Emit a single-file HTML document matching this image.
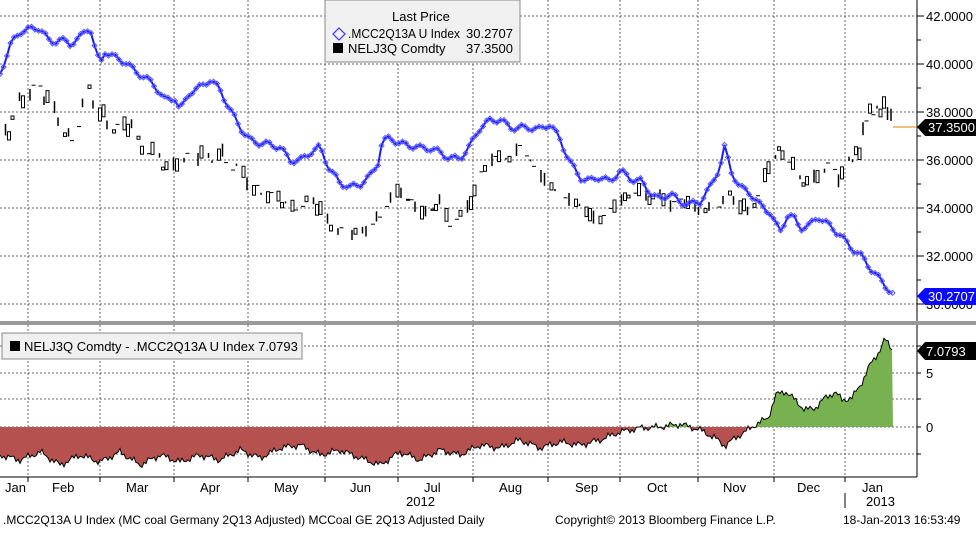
<!DOCTYPE html>
<html><head><meta charset="utf-8"><style>
body{margin:0;background:#fff;width:976px;height:528px;overflow:hidden;font-family:"Liberation Sans",sans-serif}
svg text{font-family:"Liberation Sans",sans-serif}
</style></head><body>
<svg id="s" width="976" height="528" xmlns="http://www.w3.org/2000/svg">
<defs>
<clipPath id="up"><rect x="0" y="330" width="917" height="97"/></clipPath>
<clipPath id="dn"><rect x="0" y="427" width="917" height="50"/></clipPath>
</defs>
<g id="grid" stroke="#666" stroke-dasharray="2,2" stroke-width="1"></g>
<g id="blk"></g>
<polyline id="blue" fill="none" stroke="#1a1aff" stroke-width="2"/>
<g id="dots" fill="none" stroke="#5a5aff" stroke-width="1"></g>
<path id="ared" fill="#b5514f" clip-path="url(#dn)"/>
<path id="agrn" fill="#77b150" clip-path="url(#up)"/>
<polyline id="sline" fill="none" stroke="#000" stroke-width="1"/>
<line x1="917" y1="0" x2="917" y2="477" stroke="#000"/>
<line x1="0" y1="477" x2="917" y2="477" stroke="#000"/>
<rect x="0" y="321" width="976" height="4" fill="#999"/>
<g id="ax" font-size="13" fill="#000"></g>
<line x1="893" y1="127" x2="917" y2="127" stroke="#e08000"/>
<path d="M917,127 L925,119 L976,119 L976,136 L925,136 Z" fill="#000"/>
<text x="928" y="132" font-size="13" fill="#fff">37.3500</text>
<path d="M917,296 L925,288 L976,288 L976,305 L925,305 Z" fill="#0a0aff"/>
<text x="928" y="301" font-size="13" fill="#fff">30.2707</text>
<path d="M917,351 L925,342 L976,342 L976,360 L925,360 Z" fill="#000"/>
<text x="926" y="356" font-size="13" fill="#fff">7.0793</text>
<rect x="325" y="0" width="195" height="62" fill="#f0f0f0" stroke="#888"/>
<text x="392" y="21" font-size="13">Last Price</text>
<path d="M339,28 L345,34 L339,40 L333,34 Z" fill="none" stroke="#3333ff" stroke-width="1.2"/>
<text x="348" y="38" font-size="13" textLength="112" lengthAdjust="spacingAndGlyphs">.MCC2Q13A U Index</text><text x="466" y="38" font-size="13">30.2707</text>
<rect x="333" y="43" width="10" height="10" fill="#000"/>
<text x="348" y="53" font-size="13">NELJ3Q Comdty</text><text x="466" y="53" font-size="13">37.3500</text>
<rect x="2" y="333" width="300" height="26" fill="#f0f0f0" stroke="#888"/>
<rect x="10" y="341" width="10" height="10" fill="#000"/>
<text x="24" y="351" font-size="13">NELJ3Q Comdty - .MCC2Q13A U Index 7.0793</text>
<g font-size="13">
<text x="5" y="492">Jan</text><text x="52" y="492">Feb</text><text x="126" y="492">Mar</text><text x="200" y="492">Apr</text><text x="274" y="492">May</text><text x="350" y="492">Jun</text><text x="424" y="492">Jul</text><text x="499" y="492">Aug</text><text x="575" y="492">Sep</text><text x="647" y="492">Oct</text><text x="723" y="492">Nov</text><text x="797" y="492">Dec</text><text x="862" y="492">Jan</text>
<text x="406" y="506">2012</text><text x="866" y="506">2013</text>
</g>
<line x1="845" y1="493" x2="845" y2="508" stroke="#000"/>
<g font-size="12"><text x="3" y="524">.MCC2Q13A U Index (MC coal Germany 2Q13 Adjusted) MCCoal GE 2Q13 Adjusted  Daily</text>
<text x="555" y="524">Copyright© 2013 Bloomberg Finance L.P.</text><text x="843" y="524">18-Jan-2013 16:53:49</text></g>
</svg>
<script>
var NS="http://www.w3.org/2000/svg";
function el(p,t,a){var e=document.createElementNS(NS,t);for(var k in a)e.setAttribute(k,a[k]);document.getElementById(p).appendChild(e);return e;}
var vx=[28,100,174,248,325,398,473,548,620,698,774,845];
vx.forEach(function(x){el("grid","line",{x1:x,y1:0,x2:x,y2:321});el("grid","line",{x1:x,y1:325,x2:x,y2:477});el("ax","line",{x1:x,y1:477,x2:x,y2:482,stroke:"#000","stroke-dasharray":"none"});});
[16,64,112,160,208,256,304].forEach(function(y,i){el("grid","line",{x1:0,y1:y,x2:917,y2:y});el("ax","line",{x1:917,y1:y,x2:924,y2:y,stroke:"#000"});var t=el("ax","text",{x:926,y:y+5});t.textContent=(42-2*i).toFixed(4);});
[40,88,136,184,232,280].forEach(function(y){el("ax","line",{x1:917,y1:y,x2:921,y2:y,stroke:"#000"});});
[346,373,399,427,454].forEach(function(y){el("grid","line",{x1:0,y1:y,x2:917,y2:y});el("ax","line",{x1:917,y1:y,x2:921,y2:y,stroke:"#000"});});
var t=el("ax","text",{x:926,y:378});t.textContent="5";t=el("ax","text",{x:926,y:432});t.textContent="0";
var B=[[0,74],[10,48],[20,34],[30,30],[40,26],[50,40],[60,38],[70,45],[80,40],[90,28],[95,50],[100,64],[105,50],[115,55],[125,60],[135,72],[145,80],[155,88],[165,100],[175,96],[180,108],[190,90],[200,88],[210,82],[220,92],[230,110],[240,125],[250,138],[260,142],[270,146],[280,150],[290,162],[300,160],[310,150],[320,145],[330,170],[340,185],[350,190],[360,185],[370,175],[378,160],[382,140],[390,136],[400,145],[410,148],[420,150],[430,148],[440,150],[450,156],[460,158],[470,148],[480,130],[490,122],[500,118],[510,125],[520,126],[530,128],[540,132],[550,126],[560,140],[570,160],[580,175],[590,180],[600,178],[610,185],[620,172],[630,178],[640,178],[650,190],[660,200],[670,195],[680,205],[690,205],[700,200],[710,185],[720,165],[725,145],[730,170],[740,190],[750,195],[760,205],[770,210],[780,230],[788,213],[795,220],[800,230],[810,228],[818,218],[830,225],[840,232],[850,245],[860,255],[870,270],[880,282],[893,294]];
function interp(A,x){for(var i=1;i<A.length;i++)if(A[i][0]>=x){var a=A[i-1],b=A[i];return a[1]+(b[1]-a[1])*(x-a[0])/(b[0]-a[0]);}return A[A.length-1][1];}
var pts=[];for(var x=0;x<=893;x+=3.5){var y=interp(B,x)+Math.sin(x*1.7)*2.5+Math.sin(x*0.37)*3;pts.push(x.toFixed(1)+","+y.toFixed(1));el("dots","path",{d:"M"+x+","+(y-2.5)+"l2.5,2.5l-2.5,2.5l-2.5,-2.5z"});}
document.getElementById("blue").setAttribute("points",pts.join(" "));
var K=[[0,140],[10,130],[20,100],[30,90],[40,90],[50,105],[60,120],[70,140],[80,120],[87,85],[95,105],[100,110],[110,125],[120,130],[130,125],[140,145],[150,150],[160,160],[170,175],[180,155],[190,158],[200,155],[210,160],[220,150],[230,165],[240,170],[250,185],[260,190],[270,195],[280,200],[290,210],[300,205],[310,200],[320,210],[330,225],[340,230],[350,232],[360,235],[370,225],[380,215],[390,200],[400,190],[410,200],[420,210],[430,215],[440,200],[450,225],[460,215],[470,205],[480,175],[490,160],[500,155],[510,160],[520,145],[530,160],[540,175],[550,185],[560,195],[570,200],[580,205],[590,215],[600,220],[610,210],[620,200],[630,195],[640,190],[650,200],[660,195],[670,205],[680,200],[690,205],[700,210],[710,208],[720,205],[730,195],[740,205],[750,210],[760,195],[770,160],[780,150],[790,160],[800,180],[810,185],[820,170],[830,165],[840,180],[850,160],[860,150],[865,120],[870,112],[880,110],[885,105],[890,115],[893,125]];
for(var x=2;x<=893;x+=3.5){if(Math.sin(x*0.53)>0.55&&x<850)continue;var y=interp(K,x)+Math.sin(x*0.9)*5,r=Math.sin(x*3.1),h=Math.abs(Math.sin(x*0.77))*12+1;if(r>0.3){el("blk","rect",{x:x-1.5,y:y-h/2,width:3,height:h,fill:"#fff",stroke:"#000","stroke-width":1});}else if(r>-0.4){el("blk","line",{x1:x-2,y1:y,x2:x+2,y2:y,stroke:"#000"});}else{el("blk","line",{x1:x,y1:y-h/2,x2:x,y2:y+h/2,stroke:"#000","stroke-width":1.5});}}
var S=[[0,455],[20,460],[40,452],[60,465],[80,455],[100,462],[120,452],[140,465],[160,455],[180,462],[200,455],[220,460],[240,450],[260,458],[280,448],[300,445],[320,455],[340,450],[360,458],[380,465],[400,452],[420,460],[440,450],[460,455],[480,445],[500,448],[520,440],[540,448],[560,442],[580,445],[600,440],[620,432],[640,428],[660,427],[680,424],[700,430],[715,438],[725,446],[735,438],[745,432],[755,425],[768,418],[776,395],[785,391],[795,400],[805,410],[815,408],[825,398],[835,392],[842,400],[852,398],[862,382],[870,365],[880,350],[885,339],[893,350]];
var sp=[];for(var x=0;x<=893;x+=2){var y=interp(S,x)+Math.sin(x*1.3)*2+Math.sin(x*0.41)*2;sp.push(x+","+y.toFixed(1));}
document.getElementById("sline").setAttribute("points",sp.join(" "));
var d="M0,427 L"+sp.join(" L")+" L893,427 Z";
document.getElementById("ared").setAttribute("d",d);document.getElementById("agrn").setAttribute("d",d);
</script>
</body></html>
